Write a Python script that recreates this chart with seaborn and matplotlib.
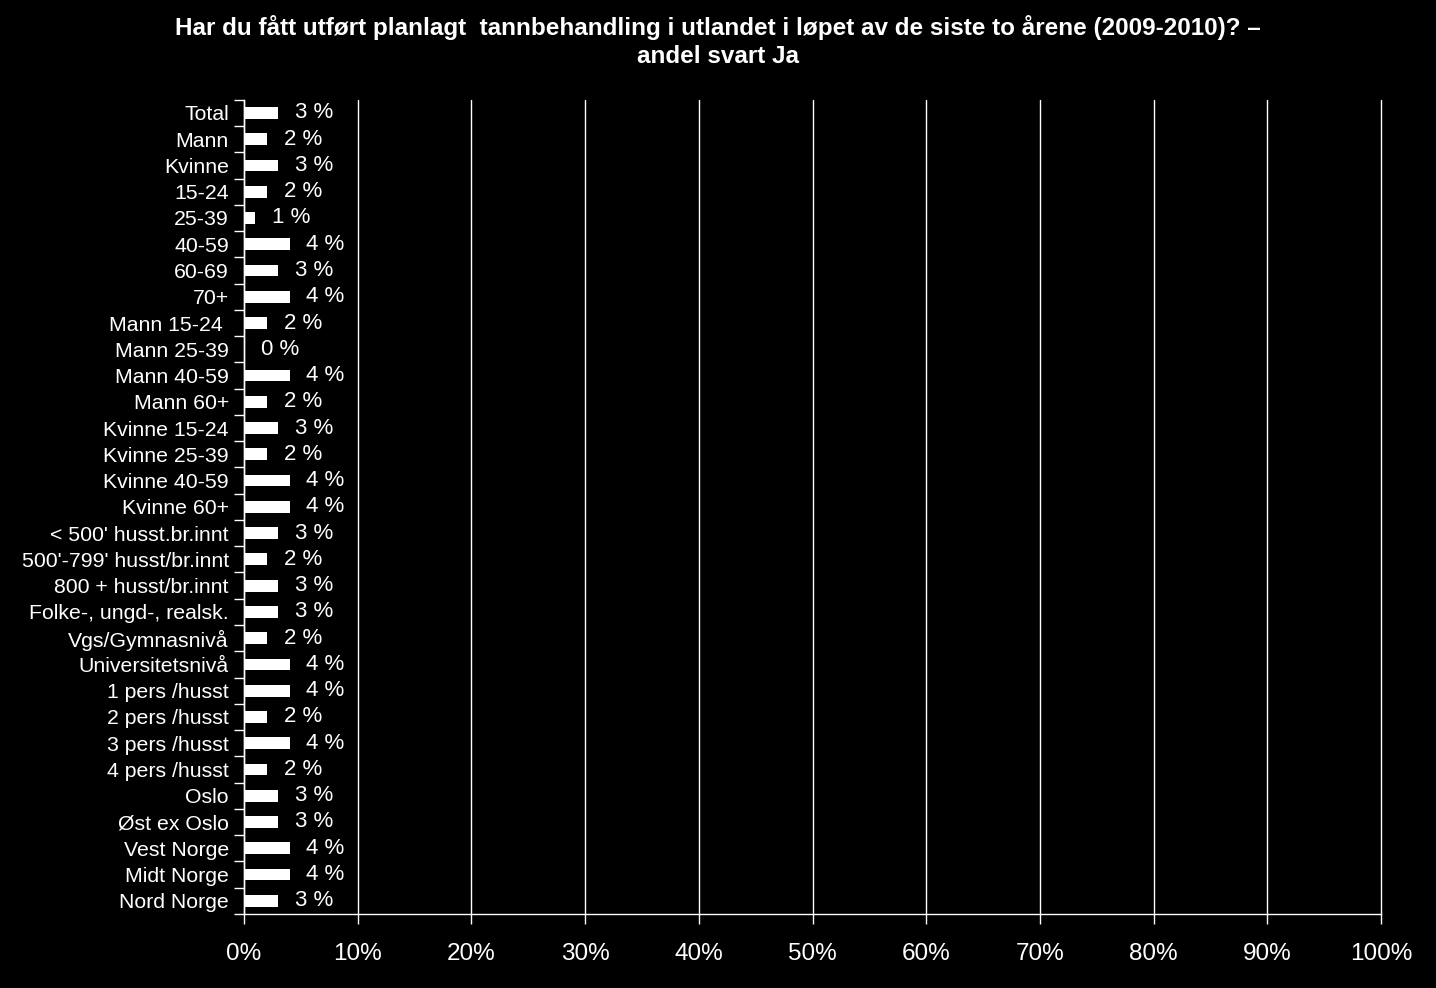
import pandas as pd
import numpy as np
import seaborn as sns
import matplotlib
matplotlib.use("Agg")
import matplotlib.pyplot as plt
import matplotlib.ticker as ticker

# data
categories = [
    "Total", "Mann", "Kvinne", "15-24", "25-39", "40-59", "60-69", "70+",
    "Mann 15-24 ", "Mann 25-39", "Mann 40-59", "Mann 60+",
    "Kvinne 15-24", "Kvinne 25-39", "Kvinne 40-59", "Kvinne 60+",
    "< 500' husst.br.innt", "500'-799' husst/br.innt", "800 + husst/br.innt",
    "Folke-, ungd-, realsk.", "Vgs/Gymnasnivå", "Universitetsnivå",
    "1 pers /husst", "2 pers /husst", "3 pers /husst", "4 pers /husst",
    "Oslo", "Øst ex Oslo", "Vest Norge", "Midt Norge", "Nord Norge",
]
values = [3, 2, 3, 2, 1, 4, 3, 4, 2, 0, 4, 2, 3, 2, 4, 4,
          3, 2, 3, 3, 2, 4, 4, 2, 4, 2, 3, 3, 4, 4, 3]
xticks = [0, 10, 20, 30, 40, 50, 60, 70, 80, 90, 100]
title = ("Har du fått utført planlagt  tannbehandling i utlandet i løpet av de siste to årene (2009-2010)? –\n"
         "andel svart Ja")

df = pd.DataFrame({"Gruppe": categories, "Andel": values})

sns.set_style("dark")
plt.rcParams['font.family'] = ['Liberation Sans', 'DejaVu Sans']
plt.rcParams['figure.facecolor'] = 'black'
plt.rcParams['axes.facecolor'] = 'black'

fig, ax = plt.subplots(figsize=(14.36, 9.88), dpi=100)
fig.subplots_adjust(left=0.17, right=0.9617, top=0.899, bottom=0.075)

sns.barplot(data=df, x="Andel", y="Gruppe", orient="h", color="white",
            width=0.45, saturation=1, ax=ax, zorder=3)
for p in ax.patches:
    p.set_edgecolor("none")

ax.bar_label(ax.containers[0], labels=[f"{v} %" for v in values],
             padding=12, color="white", fontsize=16)

ax.set_xlim(0, 100)
ax.set_ylim(len(categories) - 0.5, -0.5)
ax.set_xticks(xticks)
ax.xaxis.set_major_formatter(ticker.FuncFormatter(lambda v, p: f"{int(v)}%"))
ax.grid(axis="x", color="white", linewidth=1, zorder=0)
ax.grid(axis="y", visible=False)
for gl in ax.get_xgridlines():
    gl.set_clip_on(False)

ax.set_yticks(np.arange(len(categories)))
ax.set_yticklabels(categories)
ax.set_yticks(np.arange(len(categories) + 1) - 0.5, minor=True)
ax.tick_params(axis="y", which="major", left=True, length=0, pad=11, labelsize=15.3, labelcolor="white")
ax.tick_params(axis="y", which="minor", left=True, length=7, width=1, color="white", direction="out")
ax.tick_params(axis="x", which="major", bottom=True, length=7, width=1, color="white", direction="out",
               pad=14, labelsize=17.5, labelcolor="white")

ax.set_xlabel("")
ax.set_ylabel("")
for side in ["top", "right"]:
    ax.spines[side].set_visible(False)
for side in ["left", "bottom"]:
    ax.spines[side].set_visible(True)
    ax.spines[side].set_color("white")
    ax.spines[side].set_linewidth(1)

fig.suptitle(title, color="white", fontsize=17.5, fontweight="bold", y=0.985,
             linespacing=1.3)

plt.savefig("out.png", facecolor="black")
plt.close()
